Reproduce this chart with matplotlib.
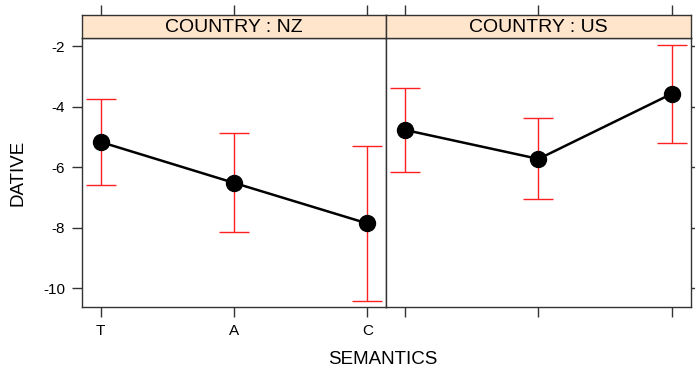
import matplotlib
matplotlib.use('Agg')
import matplotlib.pyplot as plt
import numpy as np

plt.rcParams['font.family'] = ['Liberation Sans', 'DejaVu Sans']

# dative effect by semantics, one panel per country
semantics = ['T', 'A', 'C']
countries = ['NZ', 'US']
nz_mean = [-5.17, -6.52, -7.86]
nz_lower = [-6.59, -8.15, -10.42]
nz_upper = [-3.75, -4.87, -5.30]
us_mean = [-4.77, -5.73, -3.57]
us_lower = [-6.16, -7.05, -5.19]
us_upper = [-3.39, -4.39, -1.97]
yticks = [-2, -4, -6, -8, -10]

means = [nz_mean, us_mean]
lowers = [nz_lower, us_lower]
uppers = [nz_upper, us_upper]

frame_col = '#333333'
strip_col = '#ffe5cc'

fig = plt.figure(figsize=(6.95, 3.69), dpi=100)

x = np.arange(len(semantics))
bottom, height = 0.168, 0.729
strip_h = 0.062
lefts = [0.118, 0.5554]
widths = [0.4374, 0.4388]

for i in range(2):
    ax = fig.add_axes([lefts[i], bottom, widths[i], height])
    m = np.array(means[i])
    lo = np.array(lowers[i])
    hi = np.array(uppers[i])
    ax.errorbar(x, m, yerr=[m - lo, hi - m], fmt='none', ecolor='#ff2020',
                elinewidth=1.0, capsize=10.5, capthick=1.0, zorder=2)
    ax.plot(x, m, color='black', lw=1.8, marker='o', ms=11.5, zorder=3)
    ax.set_xlim(-0.14, 2.14)
    ax.set_ylim(-10.62, -1.736)
    ax.set_xticks(x)
    ax.set_yticks(yticks)
    for s in ax.spines.values():
        s.set_color(frame_col)
        s.set_linewidth(1.0)
    ax.tick_params(axis='both', direction='out', length=7, width=1.0,
                   color=frame_col, labelsize=11, pad=5)
    if i == 0:
        ax.set_xticklabels(semantics)
        ax.set_yticklabels([str(v) for v in yticks])
        ax.tick_params(axis='y', left=True, right=False, labelleft=True)
    else:
        ax.set_xticklabels([])
        ax.tick_params(axis='y', left=False, right=True, labelleft=False,
                       labelright=False)

    # strip with panel title, ticks on its top edge
    sax = fig.add_axes([lefts[i], bottom + height, widths[i], strip_h])
    sax.set_facecolor(strip_col)
    sax.set_xlim(ax.get_xlim())
    sax.set_xticks(x)
    sax.set_yticks([])
    sax.tick_params(axis='x', top=True, bottom=False, labeltop=False,
                    labelbottom=False, direction='out', length=7, width=1.0,
                    color=frame_col)
    for s in sax.spines.values():
        s.set_color(frame_col)
        s.set_linewidth(1.0)
    sax.text(0.5, 0.46, 'COUNTRY : ' + countries[i], transform=sax.transAxes,
             ha='center', va='center', fontsize=14)

fig.text(0.551, 0.0244, 'SEMANTICS', ha='center', va='center', fontsize=13.5)
fig.text(0.026, 0.5325, 'DATIVE', ha='center', va='center', rotation=90,
         fontsize=13.5)

fig.savefig('out.png', dpi=100)
